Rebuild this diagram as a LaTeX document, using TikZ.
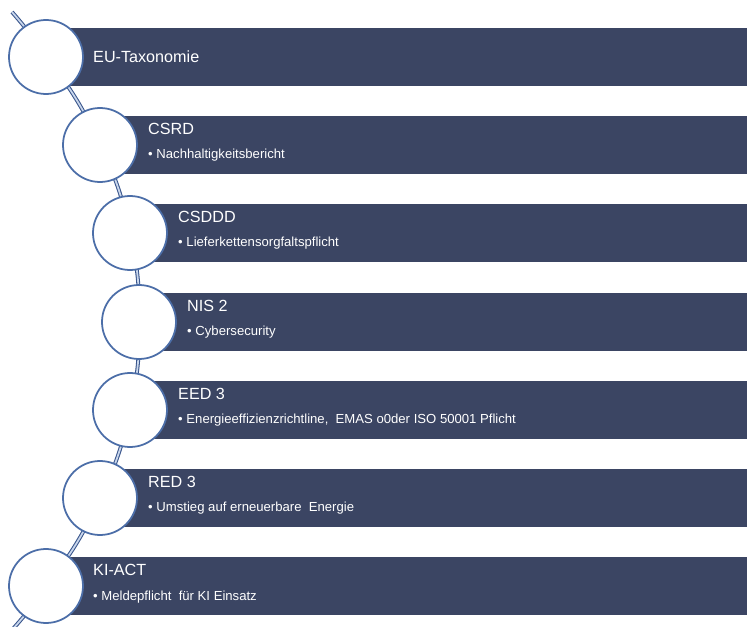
\documentclass[tikz,border=0pt]{standalone}
\usepackage{fontspec}
\setmainfont{Liberation Sans}
\usepackage{tikz}
\usetikzlibrary{positioning, calc}
\definecolor{bandnavy}{RGB}{59,69,99}
\definecolor{ringblue}{RGB}{76,110,168}
\definecolor{railblue}{RGB}{58,86,140}
\definecolor{railpale}{RGB}{200,214,236}
\tikzset{
    stage/.style={circle, draw=ringblue, line width=1.5pt, fill=white, minimum size=2.22cm, inner sep=0pt},
    band/.style={fill=bandnavy, draw=none, minimum height=1.74cm, inner sep=0pt, anchor=west},
    head/.style={text=white, font=\fontsize{13.8}{16}\selectfont, anchor=base west, inner sep=0pt},
    item/.style={text=white, font=\fontsize{11.2}{13}\selectfont, anchor=base west, inner sep=0pt},
    rail/.style={draw=railblue, line width=0.9pt, double=railpale, double distance=1.5pt}
}

\begin{document}
\begin{tikzpicture}[x=0.03cm, y=0.03cm]
  \useasboundingbox (0,0) rectangle (747,-627);
  \clip (0,0) rectangle (747,-627);
  \coordinate (top) at (12,-12);
  \coordinate (p1) at (46,-57);
  \coordinate (p2) at (100,-145);
  \coordinate (p3) at (130,-233);
  \coordinate (p4) at (139,-322);
  \coordinate (p5) at (130,-410);
  \coordinate (p6) at (100,-498);
  \coordinate (p7) at (46,-586);
  \coordinate (bottom) at (12,-630);

  % bands
  \node[band, minimum width=21.03cm] (b1) at (p1) {};
  \node[band, minimum width=19.41cm] (b2) at (p2) {};
  \node[band, minimum width=18.51cm] (b3) at (p3) {};
  \node[band, minimum width=18.24cm] (b4) at (p4) {};
  \node[band, minimum width=18.51cm] (b5) at (p5) {};
  \node[band, minimum width=19.41cm] (b6) at (p6) {};
  \node[band, minimum width=21.03cm] (b7) at (p7) {};

  % rail behind the circles
  \draw[rail] (top) to[bend left=4] (p1) to[bend left=7] (p2) to[bend left=7] (p3)
    to[bend left=7] (p4) to[bend left=7] (p5) to[bend left=7] (p6)
    to[bend left=7] (p7) to[bend left=4] (bottom);

  % circles
  \node[stage] (c1) at (p1) {};
  \node[stage] (c2) at (p2) {};
  \node[stage] (c3) at (p3) {};
  \node[stage] (c4) at (p4) {};
  \node[stage] (c5) at (p5) {};
  \node[stage] (c6) at (p6) {};
  \node[stage] (c7) at (p7) {};

  % labels
  \node[head] (t1) at ($(p1)+(47,-6)$) {EU-Taxonomie};
  \node[head] (t2) at ($(p2)+(48,10)$) {CSRD};
  \node[item] (s2) at ($(p2)+(48,-14)$) {• Nachhaltigkeitsbericht};
  \node[head] (t3) at ($(p3)+(48,10)$) {CSDDD};
  \node[item] (s3) at ($(p3)+(48,-14)$) {• Lieferkettensorgfaltspflicht};
  \node[head] (t4) at ($(p4)+(48,10)$) {NIS 2};
  \node[item] (s4) at ($(p4)+(48,-14)$) {• Cybersecurity};
  \node[head] (t5) at ($(p5)+(48,10)$) {EED 3};
  \node[item] (s5) at ($(p5)+(48,-14)$) {• Energieeffizienzrichtline,\ \ EMAS o0der ISO 50001 Pflicht};
  \node[head] (t6) at ($(p6)+(48,10)$) {RED 3};
  \node[item] (s6) at ($(p6)+(48,-14)$) {• Umstieg auf erneuerbare\ \ Energie};
  \node[head] (t7) at ($(p7)+(47,10)$) {KI-ACT};
  \node[item] (s7) at ($(p7)+(47,-14)$) {• Meldepflicht\ \ für KI Einsatz};
\end{tikzpicture}
\end{document}
